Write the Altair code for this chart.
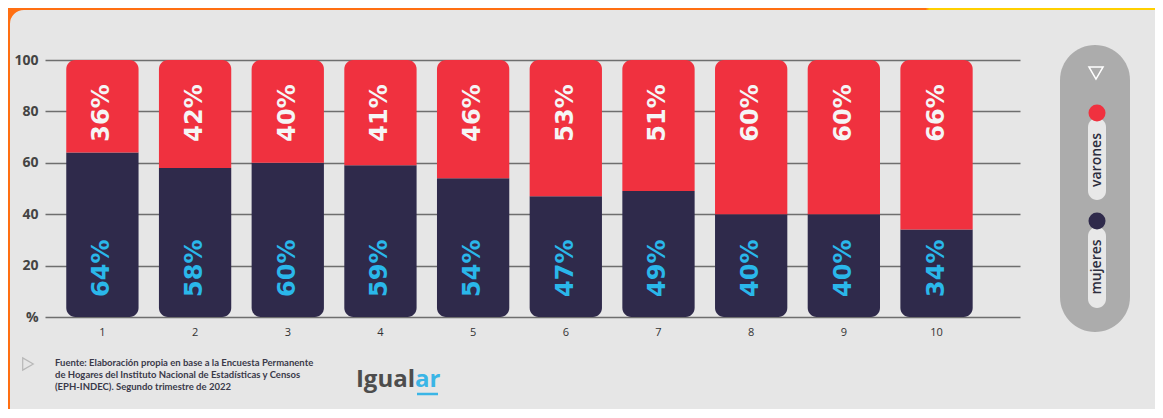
import altair as alt
import pandas as pd

# ---- data ----
deciles = [1, 2, 3, 4, 5, 6, 7, 8, 9, 10]
mujeres = [64, 58, 60, 59, 54, 47, 49, 40, 40, 34]
varones = [36, 42, 40, 41, 46, 53, 51, 60, 60, 66]
y_ticks = [0, 20, 40, 60, 80, 100]
series_names = ["varones", "mujeres"]
series_colors = ["#f0313f", "#2f2a4b"]
source_lines = [
    "Fuente: Elaboración propia en base a la Encuesta Permanente",
    "de Hogares del Instituto Nacional de Estadísticas y Censos",
    "(EPH-INDEC). Segundo trimestre de 2022",
]
logo_parts = ["Igual", "ar"]

NAVY = "#2f2a4b"
RED = "#f0313f"
CYAN = "#2ab7ea"
ORANGE = "#ff6f12"
YELLOW = "#ffd000"

df = pd.DataFrame({"decil": deciles, "mujeres": mujeres, "varones": varones})
df["base"] = 0
df["total"] = df["mujeres"] + df["varones"]
df["m_lab"] = df["mujeres"].astype(str) + "%"
df["v_lab"] = df["varones"].astype(str) + "%"

x_enc = alt.X(
    "decil:O",
    scale=alt.Scale(paddingInner=0.22, paddingOuter=0.37, align=0.31),
    axis=alt.Axis(title=None, labelAngle=0, ticks=False, domain=False,
                  labelPadding=9, labelFontSize=11, labelColor="#333333",
                  labelFont="Open Sans"),
)
y_axis = alt.Axis(
    values=y_ticks, title=None, ticks=False, domain=False, grid=True,
    gridColor="#6e6e6e", gridWidth=1.5,
    labelExpr="datum.value == 0 ? '%' : datum.label",
    labelFontSize=14, labelFontWeight="bold", labelColor="#444444",
    labelPadding=7, labelFont="Open Sans",
)
y_scale = alt.Scale(domain=[0, 100], nice=False)

base = alt.Chart(df).encode(x=x_enc)

bar_m = base.mark_bar(color=NAVY, cornerRadiusBottomLeft=9, cornerRadiusBottomRight=9).encode(
    y=alt.Y("base:Q", scale=y_scale, axis=y_axis), y2="mujeres:Q"
)
bar_v = base.mark_bar(color=RED, cornerRadiusTopLeft=9, cornerRadiusTopRight=9).encode(
    y=alt.Y("mujeres:Q", scale=y_scale, axis=y_axis), y2="total:Q"
)
lab_m = base.mark_text(angle=270, font="DejaVu Sans", fontWeight="bold", fontSize=24,
                       color=CYAN, align="center", baseline="middle").encode(
    y=alt.YDatum(19, scale=y_scale, axis=y_axis), text="m_lab:N"
)
lab_v = base.mark_text(angle=270, font="DejaVu Sans", fontWeight="bold", fontSize=24,
                       color="#f5f5f5", align="center", baseline="middle").encode(
    y=alt.YDatum(79.4, scale=y_scale, axis=y_axis), text="v_lab:N"
)

one = pd.DataFrame({"k": [0]})

# ---- legend (manual pill) ----
leg_pill = alt.Chart(one).mark_rect(color="#acacac", cornerRadius=35).encode(
    x=alt.value(1015), x2=alt.value(1085), y=alt.value(-15), y2=alt.value(272)
)
leg_tri = alt.Chart(one).mark_point(shape="triangle-down", filled=False, stroke="white",
                                     strokeWidth=1.5, size=200, opacity=1).encode(
    x=alt.value(1051), y=alt.value(13)
)
leg_layers = [leg_pill, leg_tri]
pill_y = [(58, 140), (167, 248)]
circ_y = [53, 161]
text_y = [100, 207]
for i, name in enumerate(series_names):
    d = pd.DataFrame({"name": [name]})
    leg_layers.append(
        alt.Chart(d).mark_rect(color="#e8e8e8", cornerRadius=9).encode(
            x=alt.value(1043), x2=alt.value(1061),
            y=alt.value(pill_y[i][0]), y2=alt.value(pill_y[i][1]))
    )
    leg_layers.append(
        alt.Chart(d).mark_circle(color=series_colors[i], size=290, opacity=1).encode(
            x=alt.value(1052), y=alt.value(circ_y[i]))
    )
    leg_layers.append(
        alt.Chart(d).mark_text(angle=270, font="Open Sans", fontWeight=600, fontSize=14,
                               color="#2d2d3d", align="center", baseline="middle").encode(
            x=alt.value(1052), y=alt.value(text_y[i]), text="name:N")
    )

# ---- source + logo ----
src_icon = alt.Chart(one).mark_point(shape="triangle-right", filled=False, stroke="#b8b8b8",
                                     strokeWidth=1.2, size=150, opacity=1).encode(
    x=alt.value(-17), y=alt.value(304)
)
src_text = alt.Chart(one).mark_text(text=source_lines, font="Lato", fontWeight="bold",
                                    fontSize=9.5, lineHeight=12, color="#3a3a4a",
                                    align="left", baseline="top").encode(
    x=alt.value(10), y=alt.value(298)
)
logo_a = alt.Chart(pd.DataFrame({"t": [logo_parts[0]]})).mark_text(
    font="Open Sans", fontWeight="bold", fontSize=24, color="#4d4d4d",
    align="right", baseline="alphabetic").encode(x=alt.value(370), y=alt.value(327), text="t:N")
logo_b = alt.Chart(pd.DataFrame({"t": [logo_parts[1]]})).mark_text(
    font="Open Sans", fontWeight="bold", fontSize=24, color="#3ab5e6",
    align="left", baseline="alphabetic").encode(x=alt.value(370), y=alt.value(327), text="t:N")
logo_line = alt.Chart(one).mark_rule(color="#3ab5e6", strokeWidth=2.5).encode(
    x=alt.value(372), x2=alt.value(393), y=alt.value(334)
)

# ---- orange/yellow frame ----
frame = alt.Chart(one).mark_rect(
    filled=False,
    stroke=alt.LinearGradient(
        gradient="linear", x1=0, x2=1, y1=0, y2=0,
        stops=[alt.GradientStop(offset=0, color=ORANGE),
               alt.GradientStop(offset=0.744, color=ORANGE),
               alt.GradientStop(offset=0.747, color=YELLOW),
               alt.GradientStop(offset=1, color=YELLOW)]),
    strokeWidth=26, cornerRadius=27, opacity=1,
).encode(x=alt.value(-48), y=alt.value(-63), x2=alt.value(1200), y2=alt.value(500))

chart = alt.layer(
    bar_m, bar_v, lab_m, lab_v, *leg_layers, src_icon, src_text, logo_a, logo_b, logo_line, frame
).properties(
    width=975, height=257,
    padding={"left": 37, "top": 52, "right": 135, "bottom": 92},
    autosize=alt.AutoSizeParams(type="none"),
    background="#e6e6e6",
).configure_view(stroke=None)

chart.save("out.html", embed_options={"renderer": "svg", "actions": False})
